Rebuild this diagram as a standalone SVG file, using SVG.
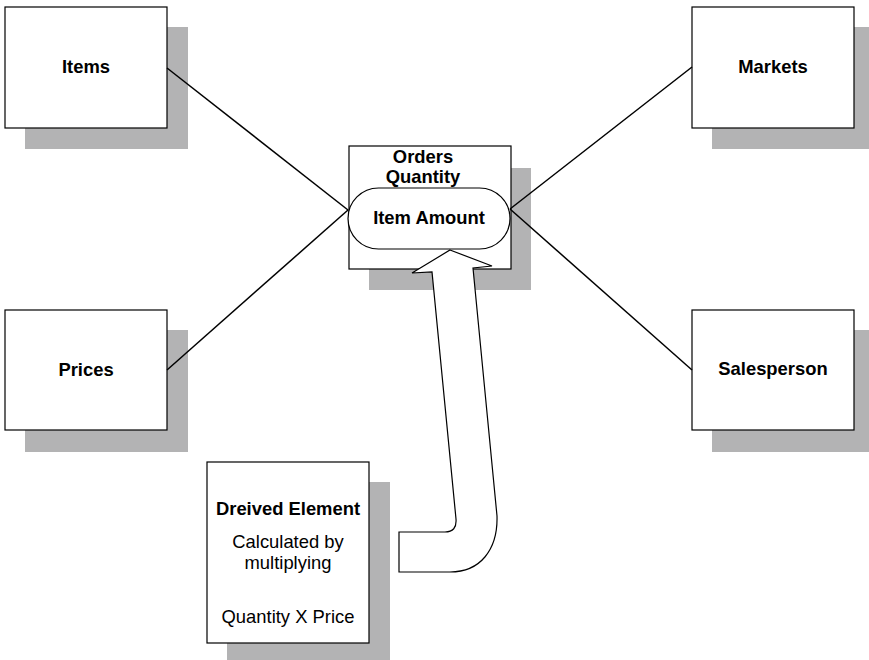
<svg xmlns="http://www.w3.org/2000/svg" width="869" height="660" viewBox="0 0 869 660">
<style>
.sh{fill:#b3b3b4}
.bx{fill:#fff;stroke:#000;stroke-width:1.2}
.t{font-family:"Liberation Sans",Arial,sans-serif;font-size:18.4px;fill:#000;text-anchor:middle}
.b{font-weight:bold}
.ln{stroke:#000;stroke-width:1.5;fill:none}
</style>
<rect width="869" height="660" fill="#fff"/>
<g id="items">
<rect class="sh" x="25" y="27" width="163" height="122"/>
<rect class="bx" x="5" y="7" width="162" height="121"/>
<text class="t b" x="86" y="73">Items</text>
</g>
<g id="markets">
<rect class="sh" x="712" y="27" width="157" height="122"/>
<rect class="bx" x="692" y="7" width="162" height="121"/>
<text class="t b" x="773" y="73">Markets</text>
</g>
<g id="prices">
<rect class="sh" x="25" y="330" width="163" height="122"/>
<rect class="bx" x="5" y="310" width="162" height="120"/>
<text class="t b" x="86" y="376">Prices</text>
</g>
<g id="salesperson">
<rect class="sh" x="712" y="330" width="157" height="122"/>
<rect class="bx" x="692" y="310" width="162" height="120"/>
<text class="t b" x="773" y="375">Salesperson</text>
</g>
<g id="orders">
<rect class="sh" x="369" y="168" width="162" height="122"/>
<rect class="bx" x="349" y="146" width="162" height="123"/>
<text class="t b" x="423" y="163">Orders</text>
<text class="t b" x="423" y="183">Quantity</text>
<rect class="bx" x="348" y="188" width="162" height="61" rx="30.5" ry="30.5"/>
<text class="t b" x="429" y="224">Item Amount</text>
</g>
<g id="derived">
<rect class="sh" x="227" y="482" width="163" height="180"/>
<rect class="bx" x="207" y="462" width="162" height="181"/>
<text class="t b" x="288" y="515">Dreived Element</text>
<text class="t" x="288" y="548">Calculated by</text>
<text class="t" x="288" y="569">multiplying</text>
<text class="t" x="288" y="623">Quantity X Price</text>
</g>
<g id="connectors">
<line class="ln" x1="167" y1="68" x2="348" y2="210"/>
<line class="ln" x1="167" y1="370" x2="348" y2="210"/>
<line class="ln" x1="692" y1="67" x2="510" y2="209"/>
<line class="ln" x1="692" y1="370" x2="510" y2="209"/>
<path class="bx" d="M450,250 L492,266 L473,268 L497,516 C498,550 480,572 450,572 L399,572 L399,532 L445,532 Q457,532 456,519 L432,272 L412,273 Z"/>
</g>
</svg>
